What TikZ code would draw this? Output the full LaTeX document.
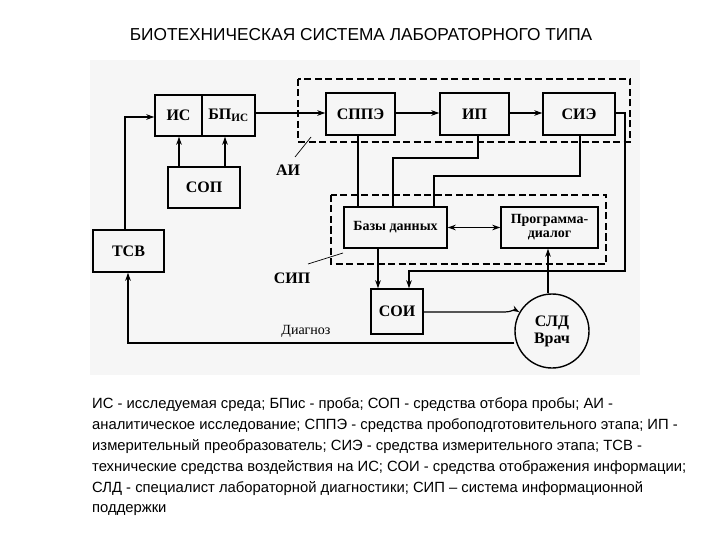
\documentclass[tikz,border=0pt]{standalone}
\usepackage{fontspec}
\setmainfont{Liberation Serif}
\newfontfamily\sans{Liberation Sans}
\usetikzlibrary{arrows.meta}
\begin{document}
\begin{tikzpicture}[x=1pt,y=-1pt,
  blk/.style={draw,line width=1.4pt,inner sep=0pt,font=\bfseries\fontsize{16}{17}\selectfont},
  grp/.style={draw,line width=1.2pt,dash pattern=on 7pt off 3.5pt},
  ln/.style={line width=1.2pt},
  ar/.style={line width=1.2pt,-{Stealth[length=8pt,width=5.5pt]}},
  lbl/.style={font=\bfseries\fontsize{16}{17}\selectfont},
  leg/.style={anchor=west,inner sep=0pt,font=\sans\fontsize{14.8}{16}\selectfont}]
\useasboundingbox (0,0) rectangle (720,540);
\fill[gray!7] (90,60) rectangle (640,375);
\node[font=\sans\fontsize{17.3}{19}\selectfont] (title) at (361,35) {БИОТЕХНИЧЕСКАЯ СИСТЕМА ЛАБОРАТОРНОГО ТИПА};
% groups
\draw[grp] (298,79) rectangle (630,142);
\draw[grp] (331,195) rectangle (606,264);
% boxes
\node[blk,minimum width=47pt,minimum height=41pt] (is) at (178.5,115.5) {ИС};
\node[blk,minimum width=53pt,minimum height=41pt] (bp) at (228.5,115.5) {БП\textsubscript{ИС}};
\node[blk,minimum width=72pt,minimum height=41pt] (sop) at (204,187.5) {СОП};
\node[blk,minimum width=69pt,minimum height=42pt] (sppe) at (360.5,114) {СППЭ};
\node[blk,minimum width=69pt,minimum height=42pt] (ip) at (474.5,114) {ИП};
\node[blk,minimum width=72pt,minimum height=42pt] (sie) at (579,114) {СИЭ};
\node[blk,minimum width=71pt,minimum height=42pt] (tsv) at (128.5,251) {ТСВ};
\node[blk,minimum width=103pt,minimum height=41pt,font=\bfseries\fontsize{14}{15}\selectfont] (bd) at (395.5,227.5) {Базы данных};
\node[blk,minimum width=97pt,minimum height=41pt,align=center,font=\bfseries\fontsize{14}{14}\selectfont] (pd) at (549.5,227.5) {Программа-\\диалог};
\node[blk,minimum width=52pt,minimum height=45pt] (soi) at (397,311.5) {СОИ};
\node[blk,circle,minimum size=74pt,align=center,font=\bfseries\fontsize{16}{17}\selectfont] (sld) at (552,331) {СЛД\\Врач};
% connectors
\draw[ar] (bp.east |- 0,113) -- (sppe.west |- 0,113);
\draw[ar] (sppe.east |- 0,113) -- (ip.west |- 0,113);
\draw[ar] (ip.east |- 0,113) -- (sie.west |- 0,113);
\draw[ar] (sop.north -| 179,0) -- (is.south -| 179,0);
\draw[ar] (sop.north -| 225,0) -- (bp.south -| 225,0);
\draw[ar] (tsv.north -| 125,0) |- (is.west |- 0,117);
\draw[ln] (sppe.south -| 358,0) -- (bd.north -| 358,0);
\draw[ln] (ip.south -| 478,0) |- (393,158) -- (bd.north -| 393,0);
\draw[ln] (sie.south -| 580,0) |- (434,176) -- (bd.north -| 434,0);
\draw[ar] (sie.east |- 0,113) -| (625,271) -| (soi.north -| 409,0);
\draw[ar] (bd.south -| 378,0) -- (soi.north -| 378,0);
\draw[line width=1.2pt,{Stealth[length=8pt,width=5.5pt]}-{Stealth[length=8pt,width=5.5pt]}] (bd.east) -- (pd.west);
\draw[ar] (sld.north -| 548,0) -- (pd.south -| 548,0);
\draw[ar] (soi.east |- 0,312) -- (505,312) to[out=0,in=150] (sld.150);
\draw[ar] (sld.west |- 0,343) -- (128,343) -- (tsv.south -| 128,0);
% labels
\node[lbl] (ai) at (288,170) {АИ};
\coordinate (aia) at (295,157); \coordinate (aib) at (311,137);
\draw[line width=0.7pt] (aia) -- (aib);
\node[lbl] (sip) at (292,278) {СИП};
\coordinate (sipa) at (308,264); \coordinate (sipb) at (343,253);
\draw[line width=0.7pt] (sipa) -- (sipb);
\node[font=\fontsize{14}{15}\selectfont] (diag) at (306,331) {Диагноз};
% legend
\node[leg] (l1) at (92,405) {ИС - исследуемая среда; БПис - проба; СОП - средства отбора пробы; АИ -};
\node[leg] (l2) at (92,426) {аналитическое исследование; СППЭ - средства пробоподготовительного этапа; ИП -};
\node[leg] (l3) at (92,447) {измерительный преобразователь; СИЭ - средства измерительного этапа; ТСВ -};
\node[leg] (l4) at (92,468) {технические средства воздействия на ИС; СОИ - средства отображения информации;};
\node[leg] (l5) at (92,489) {СЛД - специалист лабораторной диагностики; СИП – система информационной};
\node[leg] (l6) at (92,510) {поддержки};
\end{tikzpicture}
\end{document}
